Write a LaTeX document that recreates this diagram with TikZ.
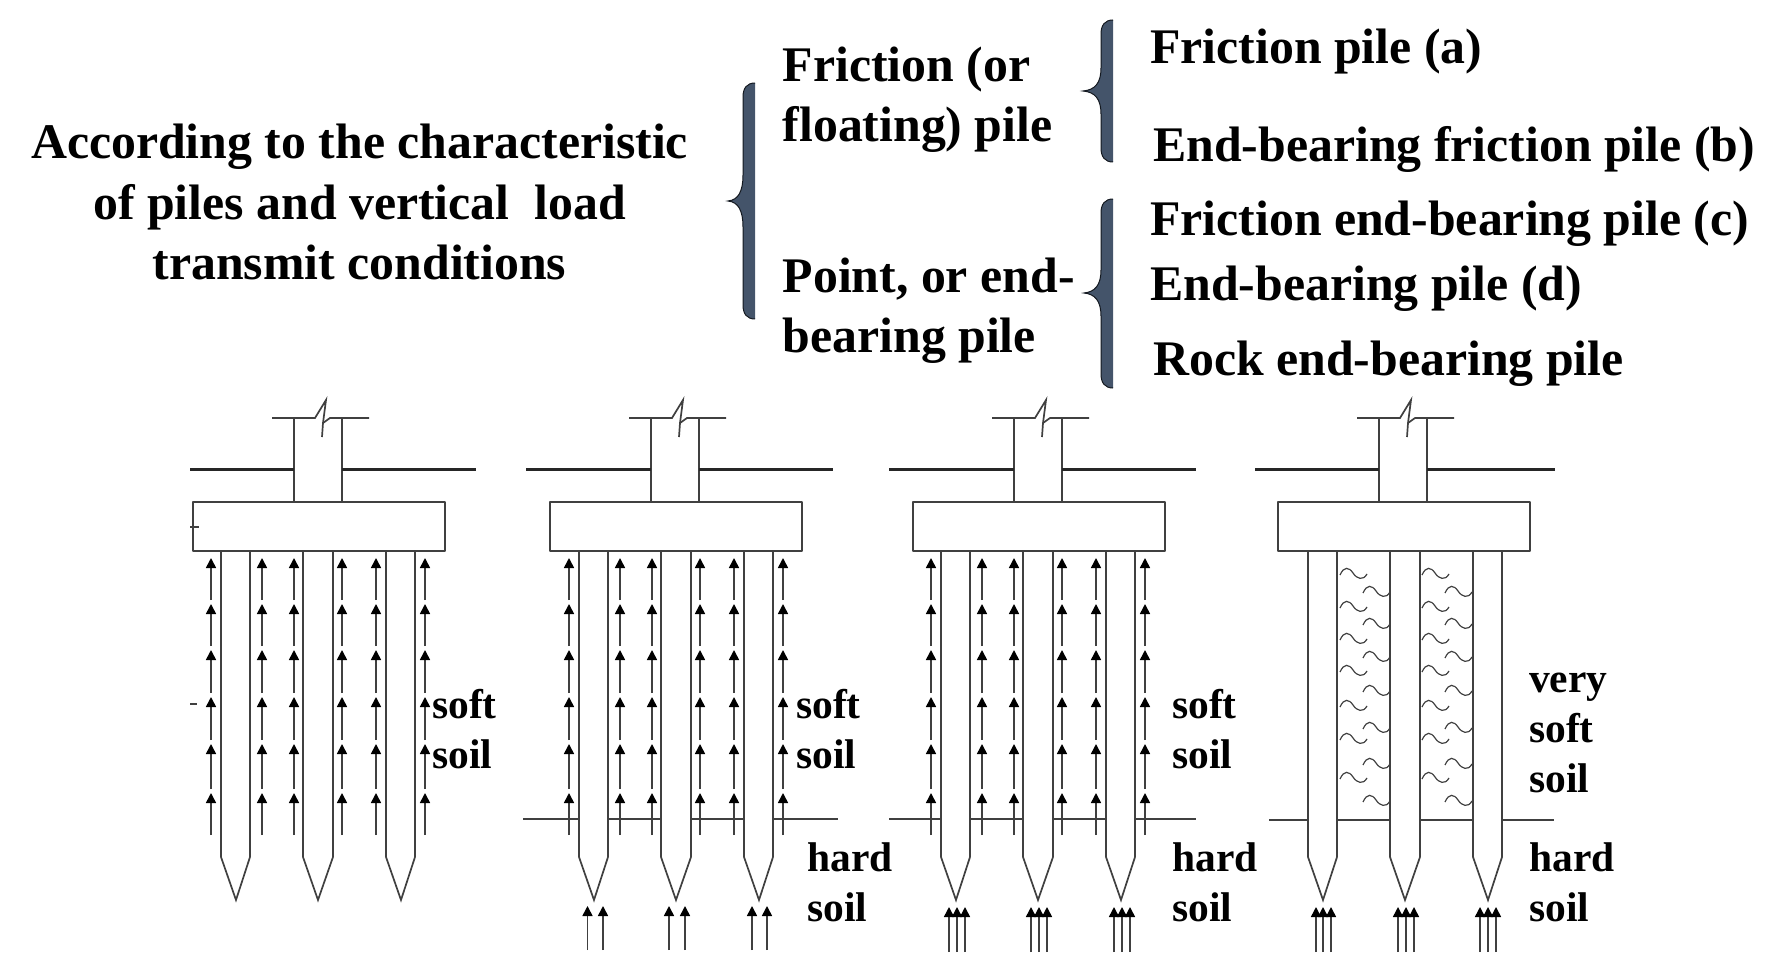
\documentclass[tikz,border=0pt]{standalone}
\usepackage{fontspec}
\setmainfont{Liberation Serif}
\usetikzlibrary{arrows.meta}
\definecolor{bracefill}{HTML}{44546A}
\definecolor{ln}{HTML}{404040}
\tikzset{
  line/.style={draw=ln,line width=1.7pt},
  ground/.style={draw=black!85,line width=3pt},
  up/.style={draw=ln,line width=1.6pt,-{Triangle[length=10pt,width=10pt,color=black]}},
  wave/.style={draw=ln,line width=1.2pt},
  bracebody/.style={draw=black!70!bracefill,line width=1pt,fill=bracefill},
  big/.style={font=\fontsize{49.8}{60}\selectfont\bfseries,inner sep=0pt},
  head/.style={big,anchor=base west},
  small/.style={font=\fontsize{41.5}{44}\selectfont\bfseries,inner sep=0pt,anchor=base west},
}
% offset, ground left, ground right (relative to offset), shift of cap and column
\newcommand{\pilefound}[4]{%
  \begin{scope}[xshift=#1pt]
    \foreach \a/\b/\t in {221/250/236, 303/333/318, 386/415/401}{
      \draw[line,fill=white] (\a,551) -- (\a,857) -- (\t,900) -- (\b,857) -- (\b,551);
    }
    \begin{scope}[xshift=#4pt]
    \draw[line] (272,418) -- (315,418) -- (326,400) -- (323,423) -- (322,437);
    \draw[line] (323,423) -- (330,418) -- (369,418);
    \draw[line] (294,418) -- (294,502);
    \draw[line] (342,418) -- (342,502);
    \draw[ground] (#2,469) -- (294,469);
    \draw[ground] (342,469) -- (#3,469);
    \draw[line,line join=round] (193,502) rectangle (445,551);
    \end{scope}
  \end{scope}
}
\newcommand{\shaftarrows}[1]{%
  \begin{scope}[xshift=#1pt]
    \foreach \x in {211,262,294,342,376,425}{
      \foreach \lo/\hi in {835/793,789/744,740/697,693/650,646/604,600/558}{
        \draw[up] (\x,\lo) -- (\x,\hi);
      }
    }
  \end{scope}
}
\newcommand{\wavy}[2]{%
  \draw[wave,shift={(#1,#2)}] (0,2) .. controls (4,-7) and (9,-6) .. (13,0) .. controls (17,6) and (23,8) .. (27,1);
}
\begin{document}
\begin{tikzpicture}[x=1pt,y=-1pt]
\useasboundingbox (0,0) rectangle (1786,963);
% title
\node[big,anchor=base] (t1) at (359.5,159) {According to the characteristic};
\node[big,anchor=base] (t2) at (359.5,219) {of piles and vertical\ \ load};
\node[big,anchor=base] (t3) at (359.5,279) {transmit conditions};
% braces
\draw[bracebody] (755,83) .. controls (747,83) and (743,88) .. (743,97) -- (743,175) .. controls (743,192) and (738,200) .. (728,201) .. controls (738,202) and (743,210) .. (743,227) -- (743,305) .. controls (743,314) and (747,319) .. (755,319);
\draw[bracebody] (1113,20) .. controls (1105,20) and (1101,25) .. (1101,34) -- (1101,68) .. controls (1101,83) and (1095,90) .. (1083,91) .. controls (1095,92) and (1101,99) .. (1101,114) -- (1101,148) .. controls (1101,157) and (1105,162) .. (1113,162);
\draw[bracebody] (1113,199) .. controls (1105,199) and (1101,204) .. (1101,213) -- (1101,270) .. controls (1101,285) and (1095,292) .. (1084,293) .. controls (1095,294) and (1101,301) .. (1101,316) -- (1101,374) .. controls (1101,383) and (1105,388) .. (1113,388);
% categories
\node[head] (c1) at (782.5,82) {Friction (or};
\node[head] (c2) at (782.5,142) {floating) pile};
\node[head] (c3) at (782.5,292) {Point, or end-};
\node[head] (c4) at (782.5,352) {bearing pile};
\node[head] (d1) at (1150,64) {Friction pile (a)};
\node[head] (d2) at (1153,161) {End-bearing friction pile (b)};
\node[head] (d3) at (1150,235) {Friction end-bearing pile (c)};
\node[head] (d4) at (1150,300) {End-bearing pile (d)};
\node[head] (d5) at (1153,375) {Rock end-bearing pile};
% hard soil lines
\draw[line] (523,819) -- (838,819);
\draw[line] (889,819) -- (1196,819);
\draw[line] (1269,820) -- (1554,820);
% foundations
\pilefound{0}{190}{476}{0}
\pilefound{358}{169}{476}{-1}
\pilefound{720}{169}{476}{0}
\pilefound{1087}{170}{470}{-2}
\draw[line] (190,527) -- (199,527);
\draw[line] (190,704) -- (197,704);
\shaftarrows{0}
\shaftarrows{358}
\shaftarrows{720}
% bottom arrows
\foreach \x in {587.5,603,669,685,752,767}{ \draw[up] (\x,950) -- (\x,906); }
\foreach \x in {949,957,965,1031,1039,1047,1114,1122,1130}{ \draw[up] (\x,952) -- (\x,907); }
\foreach \x in {1316,1323,1331,1398,1406,1414,1480,1488,1496}{ \draw[up] (\x,952) -- (\x,907); }
% waves
\foreach \dx in {0,82}{
  \foreach \y in {573,606,638,670,705,738,777}{ \wavy{1340+\dx}{\y} }
  \foreach \y in {591,623,656,690,727,763,800}{ \wavy{1363+\dx}{\y} }
}
% soil labels
\node[small] (s1) at (432,718) {soft};
\node[small] (s2) at (432,768) {soil};
\node[small] (s3) at (796,718) {soft};
\node[small] (s4) at (796,768) {soil};
\node[small] (s5) at (807,871) {hard};
\node[small] (s6) at (807,921) {soil};
\node[small] (s7) at (1172,718) {soft};
\node[small] (s8) at (1172,768) {soil};
\node[small] (s9) at (1172,871) {hard};
\node[small] (s10) at (1172,921) {soil};
\node[small] (s11) at (1529,692) {very};
\node[small] (s12) at (1529,742) {soft};
\node[small] (s13) at (1529,792) {soil};
\node[small] (s14) at (1529,871) {hard};
\node[small] (s15) at (1529,921) {soil};
\end{tikzpicture}
\end{document}
